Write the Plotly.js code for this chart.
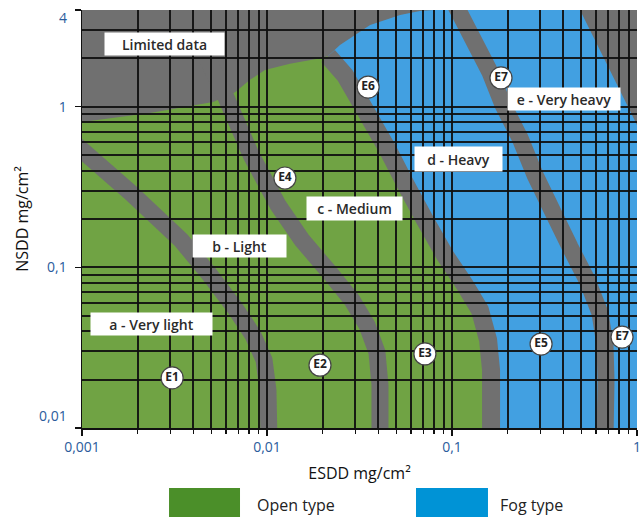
<!DOCTYPE html>
<html>
<head>
<meta charset="utf-8">
<script src="https://cdn.plot.ly/plotly-3.0.1.min.js"></script>
<style>
  html, body { margin: 0; padding: 0; background: #ffffff; }
  #chart { width: 643px; height: 517px; }
</style>
</head>
<body>
<div id="chart"></div>
<script>
// Site pollution severity: NSDD against ESDD, log-log, with class zones

// Axis ticks
const xTickVals = [0.001, 0.01, 0.1, 1];
const xTickText = ['0,001', '0,01', '0,1', '1'];
const xMinorVals = [0.002, 0.003, 0.004, 0.005, 0.006, 0.007, 0.008, 0.009,
                    0.02, 0.03, 0.04, 0.05, 0.06, 0.07, 0.08, 0.09,
                    0.2, 0.3, 0.4, 0.5, 0.6, 0.7, 0.8, 0.9];
const yTickVals = [0.01, 0.1, 1, 4];
const yTickText = ['', '0,1', '1', ''];
const yMinorVals = [0.02, 0.03, 0.04, 0.05, 0.06, 0.07, 0.08, 0.09,
                    0.2, 0.3, 0.4, 0.5, 0.6, 0.7, 0.8, 0.9, 2, 3];

// Open-type zone: left edge, then top edge (ESDD, NSDD in mg/cm²)
const openEdgeX = [0.001, 0.001, 0.00233, 0.00511, 0.00672, 0.00809, 0.00975, 0.0133, 0.0198];
const openEdgeY = [0.0084, 0.803, 0.914, 1.07, 1.23, 1.47, 1.69, 1.85, 2.01];

// Fog-type zone: top edge, limited-data wedge on the right, right edge
const fogEdgeX = [0.0248, 0.0361, 0.0524, 0.0671, 0.08, 0.492, 1, 1];
const fogEdgeY = [2.42, 3.23, 3.72, 3.95, 4.0, 4.0, 0.769, 0.0084];

// Boundary bands between severity classes
const abBandX = [0.00086, 0.001817, 0.00343, 0.00492, 0.00672, 0.00839, 0.00964, 0.01012, 0.01025];
const abBandY = [0.625, 0.294, 0.148, 0.0895, 0.0558, 0.0379, 0.0265, 0.0172, 0.0084];

const bcBandX = [0.00462, 0.00571, 0.0082, 0.01147, 0.01545, 0.0219, 0.0288, 0.0347, 0.0393, 0.0408, 0.0408];
const bcBandY = [2.10, 1.307, 0.5005, 0.244, 0.148, 0.0922, 0.0626, 0.0437, 0.0297, 0.0185, 0.0084];

const cdBandX = [0.0214, 0.0264, 0.0339, 0.0451, 0.0564, 0.0714, 0.0916, 0.1175, 0.1416, 0.1567, 0.1626, 0.1626];
const cdBandY = [2.07, 1.57, 0.954, 0.537, 0.325, 0.197, 0.119, 0.0776, 0.0542, 0.0353, 0.0229, 0.0084];

const deBandX = [0.0975, 0.1077, 0.1604, 0.1887, 0.2331, 0.281, 0.347, 0.4343, 0.537, 0.631, 0.6714, 0.68, 0.6714];
const deBandY = [4.96, 4.0, 1.644, 1.025, 0.638, 0.3756, 0.2275, 0.1338, 0.0834, 0.0519, 0.0328, 0.01987, 0.0084];

// Example sites
const siteNames = ['E1', 'E2', 'E3', 'E4', 'E5', 'E6', 'E7', 'E7'];
const siteESDD = [0.00307, 0.01934, 0.0714, 0.0125, 0.303, 0.0352, 0.184, 0.830];
const siteNSDD = [0.0205, 0.0246, 0.0289, 0.360, 0.0333, 1.326, 1.51, 0.0368];

// Text
const classLabels = ['Limited data', 'a - Very light', 'b - Light', 'c - Medium', 'd - Heavy', 'e - Very heavy'];
const legendLabels = ['Open type', 'Fog type'];
const xTitle = 'ESDD mg/cm²';
const yTitle = 'NSDD mg/cm²';

const GREY = '#707070';
const GREEN = '#70a344';
const BLUE = '#42a0e1';
const FONT = 'Open Sans, Noto Sans, sans-serif';
const TICK_BLUE = '#2b5c9c';

function svgPath(xs, ys, close) {
  let d = xs.map((x, i) => (i === 0 ? 'M' : 'L') + x + ',' + ys[i]).join(' ');
  return close ? d + ' Z' : d;
}

const openPath = svgPath(openEdgeX.concat(cdBandX), openEdgeY.concat(cdBandY), true);
const fogPath = svgPath(cdBandX.slice().reverse().concat(fogEdgeX),
                        cdBandY.slice().reverse().concat(fogEdgeY), true);

function zone(path, color) {
  return { type: 'path', xref: 'x', yref: 'y', path: path, fillcolor: color,
           line: { width: 0 }, layer: 'below' };
}
function band(xs, ys, w) {
  return { type: 'path', xref: 'x', yref: 'y', path: svgPath(xs, ys, false),
           fillcolor: 'rgba(0,0,0,0)', line: { color: GREY, width: w }, layer: 'below' };
}

const shapes = [
  zone(openPath, GREEN),
  zone(fogPath, BLUE),
  band(abBandX, abBandY, 17),
  band(bcBandX, bcBandY, 17),
  band(cdBandX, cdBandY, 18),
  band(deBandX, deBandY, 17),
  // legend swatches
  { type: 'rect', xref: 'paper', yref: 'paper', x0: 0.1568, x1: 0.2847, y0: -0.23, y1: -0.1435,
    fillcolor: '#4b8f29', line: { width: 0 } },
  { type: 'rect', xref: 'paper', yref: 'paper', x0: 0.6018, x1: 0.7315, y0: -0.23, y1: -0.1435,
    fillcolor: '#0093d6', line: { width: 0 } }
];

// Class label boxes: [paper x, paper y, box width, box height]
const labelBoxes = [
  [0.1495, 0.9187, 119, 22],
  [0.1261, 0.2488, 121, 22],
  [0.2829, 0.4354, 93, 22],
  [0.4901, 0.5263, 95, 23],
  [0.6775, 0.6435, 87, 24],
  [0.8685, 0.7871, 112, 22]
];

const annotations = classLabels.map((t, i) => ({
  text: t, xref: 'paper', yref: 'paper', x: labelBoxes[i][0], y: labelBoxes[i][1],
  xanchor: 'center', yanchor: 'middle', showarrow: false,
  width: labelBoxes[i][2], height: labelBoxes[i][3], borderpad: 0,
  bgcolor: '#ffffff', font: { family: FONT, size: 14, color: '#2a2a2a', weight: 600 }
}));

annotations.push(
  { text: legendLabels[0], xref: 'paper', yref: 'paper', x: 0.3117, y: -0.1845,
    xanchor: 'left', yanchor: 'middle', showarrow: false,
    font: { family: FONT, size: 16, color: '#222' } },
  { text: legendLabels[1], xref: 'paper', yref: 'paper', x: 0.7495, y: -0.1845,
    xanchor: 'left', yanchor: 'middle', showarrow: false,
    font: { family: FONT, size: 16, color: '#222' } },
  // end labels of the NSDD axis sit inside the plot height
  { text: '4', xref: 'paper', yref: 'paper', x: -0.0234, y: 0.9809,
    xanchor: 'right', yanchor: 'middle', showarrow: false,
    font: { family: FONT, size: 14, color: TICK_BLUE } },
  { text: '0,01', xref: 'paper', yref: 'paper', x: -0.0234, y: 0.0311,
    xanchor: 'right', yanchor: 'middle', showarrow: false,
    font: { family: FONT, size: 14, color: TICK_BLUE } }
);

const gridCommon = {
  type: 'log', showgrid: true, gridcolor: 'rgba(15,15,15,0.92)', gridwidth: 2,
  showline: true, linecolor: '#111', linewidth: 1.5,
  ticks: 'outside', ticklen: 6, tickcolor: '#111', tickwidth: 1.2,
  zeroline: false, tickmode: 'array',
  tickfont: { family: FONT, size: 14, color: TICK_BLUE }
};

const layout = {
  width: 643, height: 517,
  margin: { l: 82, r: 6, t: 10, b: 89 },
  paper_bgcolor: '#ffffff',
  plot_bgcolor: GREY,
  showlegend: false,
  hovermode: false,
  xaxis: Object.assign({}, gridCommon, {
    range: [-3, 0], tickvals: xTickVals, ticktext: xTickText,
    minor: { tickmode: 'array', tickvals: xMinorVals, showgrid: true,
             gridcolor: 'rgba(15,15,15,0.92)', gridwidth: 2,
             ticks: 'outside', ticklen: 4, tickcolor: '#111' },
    title: { text: xTitle, standoff: 12, font: { family: FONT, size: 16, color: '#111' } }
  }),
  yaxis: Object.assign({}, gridCommon, {
    range: [-2, Math.log10(4)], tickvals: yTickVals, ticktext: yTickText,
    ticklabelstandoff: 5,
    minor: { tickmode: 'array', tickvals: yMinorVals, showgrid: true,
             gridcolor: 'rgba(15,15,15,0.92)', gridwidth: 2,
             ticks: '', ticklen: 0 },
    title: { text: yTitle, standoff: 14, font: { family: FONT, size: 16, color: '#111' } }
  }),
  shapes: shapes,
  annotations: annotations
};

const sites = {
  type: 'scatter', mode: 'markers+text',
  x: siteESDD, y: siteNSDD, text: siteNames,
  textposition: 'middle center',
  textfont: { family: FONT, size: 12, color: '#222', weight: 700 },
  marker: { size: 22, color: '#ffffff', line: { color: '#444', width: 1.2 } },
  cliponaxis: false, hoverinfo: 'skip'
};

Plotly.newPlot('chart', [sites], layout, { displayModeBar: false, staticPlot: true });
</script>
</body>
</html>
